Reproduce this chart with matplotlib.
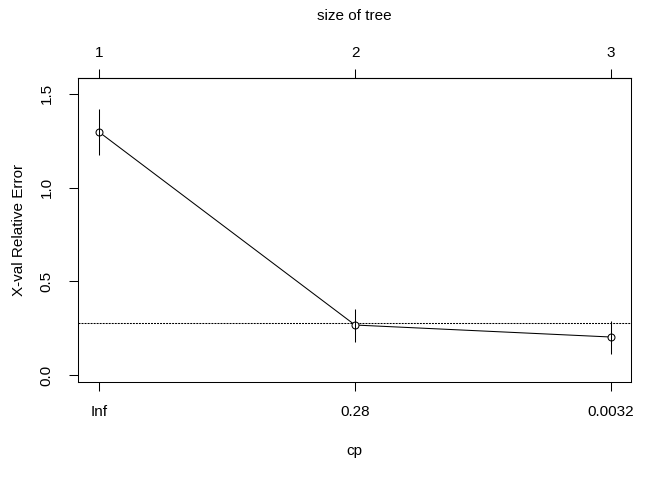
import matplotlib
matplotlib.use("Agg")
import matplotlib.pyplot as plt

plt.rcParams['font.family'] = ['Liberation Sans', 'DejaVu Sans']

tree_size = [1, 2, 3]
cp_labels = ["Inf", "0.28", "0.0032"]
xerror = [1.297, 0.267, 0.203]
xstd = [0.125, 0.088, 0.088]
threshold = 0.276

fig = plt.figure(figsize=(6.72, 4.8), dpi=100)
# plot box in pixels: x 78..631, y 78..382
ax = fig.add_axes([78 / 672, (480 - 382) / 480, 553 / 672, 304 / 480])

pos = list(range(1, len(tree_size) + 1))
ax.plot(pos, xerror, color="black", lw=0.75, zorder=2)
ax.plot(pos, xerror, "o", ms=5, mfc="white", mec="black", mew=0.75, zorder=3, ls="none")
ax.vlines(pos, [e - s for e, s in zip(xerror, xstd)], [e + s for e, s in zip(xerror, xstd)],
          color="black", lw=0.75, zorder=4)
ax.axhline(threshold, color="black", lw=0.75, dashes=(1.9, 1.0), zorder=1)

ax.set_xlim(0.918, 3.078)
ax.set_ylim(-0.037, 1.585)
ax.set_xticks(pos)
ax.set_xticklabels(cp_labels)
ax.set_yticks([0.0, 0.5, 1.0, 1.5])
ax.set_yticklabels(["0.0", "0.5", "1.0", "1.5"], rotation=90, va="center")

for sp in ax.spines.values():
    sp.set_linewidth(0.75)
ax.tick_params(direction="out", length=6.5, width=0.75, labelsize=11)
ax.tick_params(axis="x", pad=10)
ax.tick_params(axis="y", pad=11)
ax.set_xlabel("cp", fontsize=11, labelpad=18)
ax.set_ylabel("X-val Relative Error", fontsize=11, labelpad=9.5)

top = ax.secondary_xaxis("top")
top.set_xticks(pos)
top.set_xticklabels([str(t) for t in tree_size])
top.tick_params(direction="out", length=6.5, width=0.75, labelsize=11, pad=6.5)
top.set_xlabel("size of tree", fontsize=11, labelpad=19)

fig.savefig("out.png", dpi=100)
